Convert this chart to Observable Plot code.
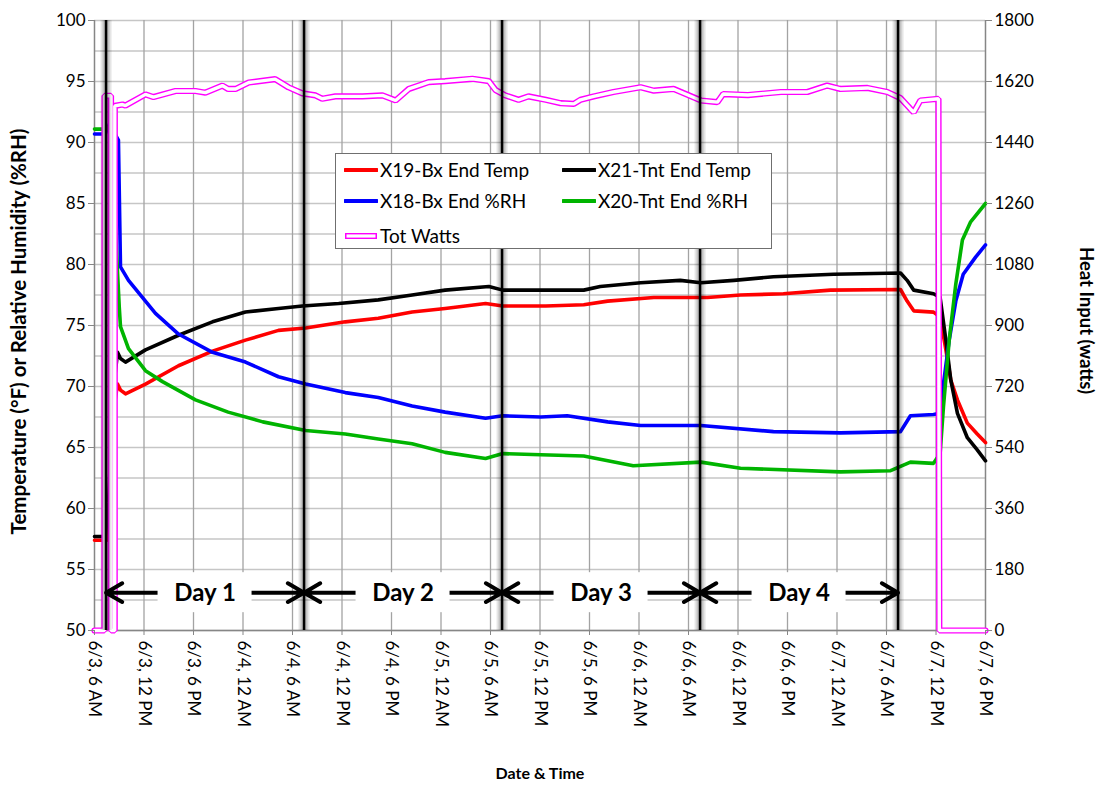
<!DOCTYPE html>
<html>
<head>
<meta charset="utf-8">
<script src="https://cdn.jsdelivr.net/npm/d3@7"></script>
<script src="https://cdn.jsdelivr.net/npm/@observablehq/plot@0.6"></script>
<style>
  html, body { margin: 0; padding: 0; background: #fff; }
  #wrap { position: relative; width: 1102px; height: 791px; font-family: Lato, "Open Sans", sans-serif; }
  #legend { position: absolute; left: 335px; top: 153px; width: 437px; height: 96px; background: #fff; border: 1px solid #6f6f6f; box-sizing: border-box; }
  .item { position: absolute; display: flex; align-items: center; font-size: 19px; color: #000; white-space: nowrap; }
  .item svg { margin-right: 2px; }
</style>
</head>
<body>
<div id="wrap"></div>
<script>
// ---- Data (hours after 6/3 6 AM, value) ----
const startDate = new Date(2013, 5, 3, 6, 0);
const spanHours = 108;

const x19BxTemp = [[0,57.4],[1.5,57.4],[1.8,59],[2.06,64],[2.42,68.5],[2.79,70.2],[3.15,69.7],[3.76,69.4],[6.18,70.2],[10.18,71.7],[14.3,72.9],[18.3,73.8],[22.3,74.6],[25.6,74.8],[30.4,75.3],[34.4,75.6],[38.5,76.1],[42.5,76.4],[47.4,76.8],[49.5,76.6],[54.7,76.6],[59.3,76.7],[62.2,77.0],[67.8,77.3],[74.3,77.3],[78.3,77.5],[83.5,77.6],[89.2,77.9],[97.7,77.95],[98.5,77.0],[99.3,76.2],[101.7,76.1],[102.5,75.7],[103.2,73.0],[103.8,70.5],[104.6,68.9],[105.8,67.0],[107.0,66.1],[108,65.4]];
const x21TntTemp = [[0,57.7],[1.3,57.7],[1.7,60.5],[2.06,66],[2.42,70.5],[2.79,72.8],[3.15,72.3],[3.76,72.0],[6.18,73.0],[10.18,74.2],[14.3,75.3],[18.3,76.1],[22.3,76.4],[25.2,76.6],[29.6,76.8],[34.4,77.1],[38.5,77.5],[42.5,77.9],[47.8,78.2],[49.5,77.9],[54.1,77.9],[59.3,77.9],[61.3,78.2],[66.2,78.5],[71.0,78.7],[73.5,78.5],[77.5,78.7],[82.3,79.0],[89.6,79.2],[97.7,79.3],[98.5,78.7],[99.3,77.9],[101.7,77.6],[102.5,77.3],[103.2,73.8],[103.8,70.5],[104.6,67.8],[105.8,65.8],[107.0,64.8],[108,63.9]];
const x18BxRH = [[0,90.7],[1.3,90.7],[1.8,91.5],[2.9,90.2],[3.15,79.8],[4.12,78.7],[7.39,76.0],[10.18,74.3],[14.3,72.8],[18.3,72.0],[22.3,70.8],[25.6,70.2],[30.4,69.5],[34.4,69.1],[38.5,68.4],[42.5,67.9],[47.4,67.4],[49.5,67.6],[54.1,67.5],[57.3,67.6],[62.2,67.1],[66.2,66.8],[73.5,66.8],[82.3,66.3],[90.4,66.2],[97.7,66.3],[98.9,67.6],[101.7,67.7],[102.5,67.8],[102.9,70.2],[103.6,73.8],[104.4,77.0],[105.3,79.2],[106.8,80.6],[108,81.6]];
const x20TntRH = [[0,91.1],[1.3,91.1],[1.8,91.3],[2.2,88],[2.6,82],[3.0,76.5],[3.15,74.9],[4.12,73.1],[6.18,71.3],[8.24,70.4],[12.24,68.9],[16.2,67.9],[20.4,67.1],[25.6,66.4],[30.4,66.1],[34.4,65.7],[38.5,65.3],[42.5,64.6],[47.4,64.1],[49.5,64.5],[54.1,64.4],[59.3,64.3],[65.3,63.5],[73.5,63.8],[78.3,63.3],[90.4,63.0],[96.5,63.1],[98.9,63.8],[101.7,63.7],[102.5,64.5],[102.9,68.3],[103.6,73.8],[104.4,78.4],[105.2,82.0],[106.2,83.5],[108,85.0]];
const totWatts = [[0,0],[1.2,0],[1.21,1578],[2.0,1578],[2.01,0],[2.45,0],[2.46,1548],[3.39,1552],[3.76,1549],[6.18,1582],[7.15,1574],[9.82,1592],[12.24,1592],[13.45,1587],[15.5,1608],[16.2,1598],[17.1,1598],[18.7,1617],[21.9,1627],[23.5,1603],[25.2,1585],[26.8,1579],[27.6,1569],[29.2,1576],[32.5,1576],[34.9,1579],[36.5,1564],[38.1,1598],[40.5,1618],[42.5,1621],[45.8,1628],[47.8,1621],[48.6,1595],[49.8,1579],[51.4,1566],[52.6,1576],[54.7,1566],[56.5,1556],[58.1,1554],[58.9,1566],[60.5,1576],[62.9,1589],[66.2,1603],[67.8,1593],[70.2,1598],[73.5,1564],[75.5,1559],[76.2,1583],[79.2,1580],[83.2,1589],[86.4,1589],[88.8,1608],[90.4,1598],[93.7,1601],[96.1,1589],[97.7,1571],[98.9,1539],[99.3,1529],[100.1,1564],[102.3,1569],[102.4,0],[108,0]];

const dayMarkerHours = [1.4, 25.4, 49.4, 73.4, 97.4];
const dayNames = ["Day 1", "Day 2", "Day 3", "Day 4"];
const arrowLevel = 53.1;

const xTickLabels = ["6/3, 6 AM","6/3, 12 PM","6/3, 6 PM","6/4, 12 AM","6/4, 6 AM","6/4, 12 PM","6/4, 6 PM","6/5, 12 AM","6/5, 6 AM","6/5, 12 PM","6/5, 6 PM","6/6, 12 AM","6/6, 6 AM","6/6, 12 PM","6/6, 6 PM","6/7, 12 AM","6/7, 6 AM","6/7, 12 PM","6/7, 6 PM"];
const leftTicks = [50,55,60,65,70,75,80,85,90,95,100];
const rightTickLabels = ["0","180","360","540","720","900","1080","1260","1440","1620","1800"];
const wattsMax = 1800;

const seriesNames = ["X19-Bx End Temp","X21-Tnt End Temp","X18-Bx End %RH","X20-Tnt End %RH","Tot Watts"];
const seriesColors = ["#ff0000","#000000","#0000ff","#00b400","#ff00ff"];

// ---- Build ----
const toDate = h => new Date(+startDate + h * 3600e3);
const rows = arr => arr.map(([h, v]) => ({t: toDate(h), v}));
const wattsRows = totWatts.map(([h, w]) => ({t: toDate(h), v: 50 + w / wattsMax * 50}));
const xTicks = xTickLabels.map((_, i) => toDate(i * 6));
const labelByTime = new Map(xTicks.map((d, i) => [+d, xTickLabels[i]]));
const rightByLeft = new Map(leftTicks.map((d, i) => [d, rightTickLabels[i]]));
const minorY = d3.range(50, 100.001, 2.5);
const markers = dayMarkerHours.map(toDate);
const days = dayNames.map((name, i) => ({
  name, a: markers[i], b: markers[i + 1],
  mid: new Date((+markers[i] + +markers[i + 1]) / 2), y: arrowLevel
}));

const font = "Lato, 'Open Sans', sans-serif";
const chart = Plot.plot({
  width: 1102, height: 791,
  marginLeft: 94, marginRight: 117, marginTop: 20, marginBottom: 161,
  style: {fontFamily: font, color: "#000", background: "#fff"},
  x: {type: "time", domain: [toDate(0), toDate(spanHours)]},
  y: {domain: [50, 100]},
  marks: [
    Plot.ruleY(minorY, {stroke: "#c6c6c6", strokeWidth: 1.3}),
    Plot.ruleX(xTicks, {stroke: "#a3a3a3", strokeWidth: 1.3}),
    Plot.ruleX([toDate(0), toDate(spanHours)], {stroke: "#868686", strokeWidth: 1.3}),
    Plot.ruleY([50], {stroke: "#868686", strokeWidth: 1.3}),
    Plot.line(rows(x19BxTemp), {x: "t", y: "v", stroke: seriesColors[0], strokeWidth: 3.6}),
    Plot.line(rows(x21TntTemp), {x: "t", y: "v", stroke: seriesColors[1], strokeWidth: 3.6}),
    Plot.line(rows(x18BxRH), {x: "t", y: "v", stroke: seriesColors[2], strokeWidth: 3.6}),
    Plot.line(rows(x20TntRH), {x: "t", y: "v", stroke: seriesColors[3], strokeWidth: 3.6}),
    Plot.line(wattsRows, {x: "t", y: "v", stroke: seriesColors[4], strokeWidth: 6.2, strokeLinejoin: "miter"}),
    Plot.line(wattsRows, {x: "t", y: "v", stroke: "#fff", strokeWidth: 3.4, strokeLinejoin: "miter"}),
    Plot.ruleX(markers, {stroke: "#000", strokeOpacity: 0.10, strokeWidth: 11}),
    Plot.ruleX(markers, {stroke: "#000", strokeOpacity: 0.15, strokeWidth: 7}),
    Plot.ruleX(markers, {stroke: "#000", strokeWidth: 2.6}),
    Plot.arrow(days, {x1: "mid", y1: "y", x2: "a", y2: "y", stroke: "#000", strokeWidth: 4, headLength: 7, headAngle: 60}),
    Plot.arrow(days, {x1: "mid", y1: "y", x2: "b", y2: "y", stroke: "#000", strokeWidth: 4, headLength: 7, headAngle: 60}),
    Plot.rect(days, {x1: "mid", x2: "mid", y1: "y", y2: "y", fill: "#fff", insetLeft: -47, insetRight: -47, insetTop: -20, insetBottom: -20}),
    Plot.text(days, {x: "mid", y: "y", text: "name", fontSize: 24, fontWeight: "bold", fill: "#000", dy: 1}),
    Plot.axisY(leftTicks, {anchor: "left", tickSize: 6, tickPadding: 3, fontSize: 17, stroke: "#868686", label: null}),
    Plot.axisY(leftTicks, {anchor: "right", tickSize: 6, tickPadding: 3, fontSize: 17, stroke: "#868686", label: null, tickFormat: d => rightByLeft.get(d)}),
    Plot.axisX(xTicks, {anchor: "bottom", tickSize: 5, tickPadding: 5, fontSize: 17, stroke: "#868686", label: null, tickRotate: 90, textAnchor: "start", lineAnchor: "middle", tickFormat: d => labelByTime.get(+d)}),
    Plot.text(["Temperature (°F) or Relative Humidity (%RH)"], {frameAnchor: "left", textAnchor: "middle", dx: -75, dy: 6, rotate: -90, fontSize: 20.5, fontWeight: "bold", text: d => d}),
    Plot.text(["Heat Input (watts)"], {frameAnchor: "right", textAnchor: "middle", dx: 100, dy: -5, rotate: 90, fontSize: 18.5, fontWeight: "bold", text: d => d}),
    Plot.text(["Date & Time"], {frameAnchor: "bottom", dy: 148, fontSize: 16, fontWeight: "bold", text: d => d})
  ]
});
const wrap = document.getElementById("wrap");
wrap.appendChild(chart);

// ---- Legend ----
const legend = document.createElement("div");
legend.id = "legend";
const pos = [[8, 4], [226, 4], [8, 35], [226, 35], [8, 70]];
seriesNames.forEach((name, i) => {
  const it = document.createElement("div");
  it.className = "item";
  it.style.left = pos[i][0] + "px";
  it.style.top = pos[i][1] + "px";
  const sw = i === 4
    ? `<svg width="34" height="12"><line x1="1" y1="6" x2="33" y2="6" stroke="${seriesColors[i]}" stroke-width="6"/><line x1="2.5" y1="6" x2="31.5" y2="6" stroke="#fff" stroke-width="3.2"/></svg>`
    : `<svg width="34" height="12"><line x1="1" y1="6" x2="33" y2="6" stroke="${seriesColors[i]}" stroke-width="4" stroke-linecap="round"/></svg>`;
  it.innerHTML = sw + `<span>${name}</span>`;
  legend.appendChild(it);
});
wrap.appendChild(legend);
</script>
</body>
</html>
